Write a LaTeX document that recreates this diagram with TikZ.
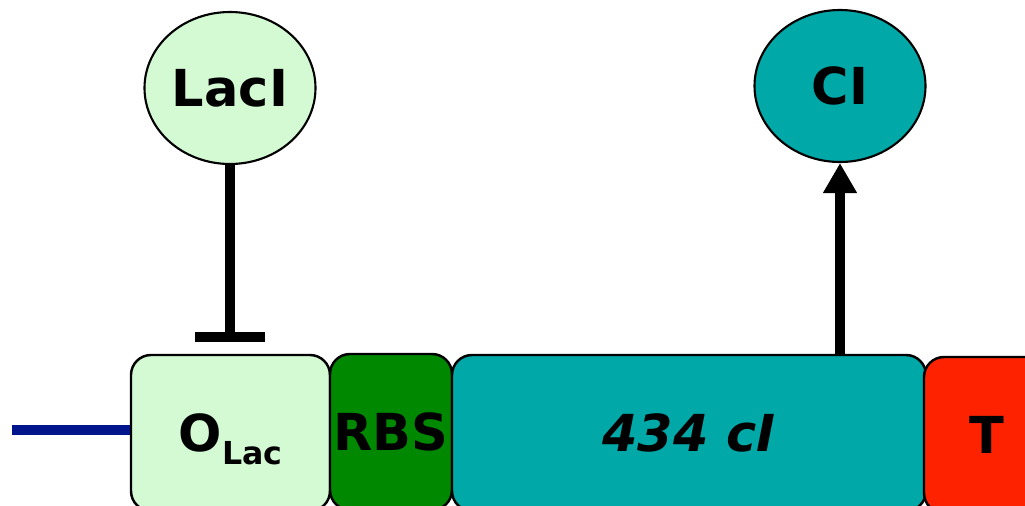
\documentclass[tikz,border=0pt]{standalone}
\usepackage{fontspec}
\setmainfont{DejaVu Sans}
\usetikzlibrary{arrows.meta,shapes.geometric}

\definecolor{lacgreen}{RGB}{212,250,212}
\definecolor{rbsgreen}{RGB}{0,136,0}
\definecolor{cteal}{RGB}{0,168,168}
\definecolor{termred}{RGB}{255,34,0}
\definecolor{dnablue}{RGB}{0,20,140}

\tikzset{
  part/.style={draw=black,line width=1.4pt,rounded corners=0.4cm,minimum height=3.12cm,
    inner sep=0pt,text depth=0pt,font=\fontsize{29}{31}\selectfont\bfseries},
  protein/.style={ellipse,draw=black,line width=1.2pt,minimum width=3.42cm,minimum height=3.04cm,
    inner sep=0pt,text depth=0pt,font=\fontsize{29}{31}\selectfont\bfseries},
  repress/.style={line width=0.2cm,-{Bar[width=1.4cm]},shorten >=0.24cm},
  activate/.style={line width=0.2cm,-{Triangle[width=0.64cm,length=0.6cm]}},
  dnaline/.style={line width=0.2cm,dnablue}
}

\begin{document}
\begin{tikzpicture}
  \path[use as bounding box,clip] (0,0) rectangle (20.5,-10.1);

  \node[part,fill=lacgreen,minimum width=3.98cm] (olac) at (4.61,-8.66)
    {O\raisebox{-0.26cm}{\fontsize{18}{18}\selectfont Lac}};
  \node[part,fill=rbsgreen,minimum width=2.44cm] (rbs) at (7.82,-8.64) {RBS};
  \node[part,fill=cteal,minimum width=9.48cm] (gene) at (13.78,-8.66) {\itshape 434 cI};
  \node[part,fill=termred,minimum width=2.52cm] (term) at (19.74,-8.70) {T};

  \coordinate (dna) at (0.24,-8.6);
  \draw[dnaline] (dna) -- (dna -| olac.west);

  \node[protein,fill=lacgreen] (laci) at (4.6,-1.76) {LacI};
  \node[protein,fill=cteal] (ci) at (16.8,-1.72) {CI};

  \draw[repress] (laci.south) -- (laci.south |- olac.north);
  \draw[activate] (gene.north -| ci.south) -- (ci.south);
\end{tikzpicture}
\end{document}
